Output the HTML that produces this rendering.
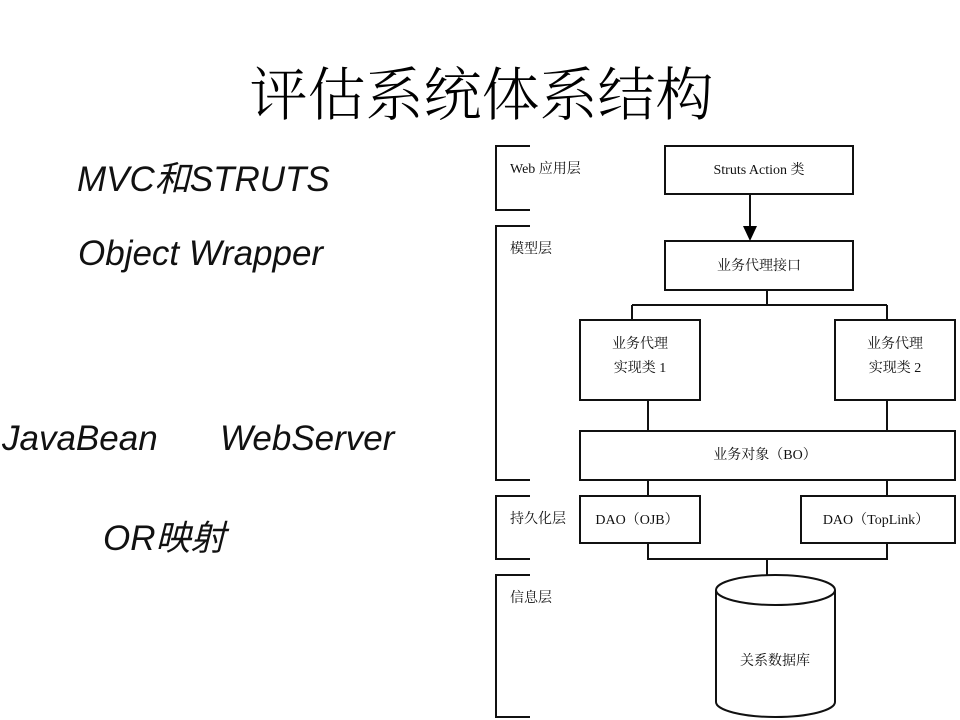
<!DOCTYPE html>
<html><head><meta charset="utf-8"><style>
body{margin:0;width:960px;height:720px;background:#fff;overflow:hidden;position:relative;font-family:"Liberation Sans","Noto Sans CJK SC",sans-serif}
.t{position:absolute;white-space:nowrap}
.l{font-style:italic;font-size:35px;color:#111}
</style></head><body>
<div class="t" style="left:0;width:963px;text-align:center;top:48px;font-size:58px;font-family:'Noto Serif CJK SC','Noto Sans CJK SC',serif;font-weight:300;color:#000">评估系统体系结构</div>
<div class="t l" style="left:77px;top:151px">MVC和STRUTS</div>
<div class="t l" style="left:78px;top:234px">Object Wrapper</div>
<div class="t l" style="left:2px;top:419px">JavaBean</div>
<div class="t l" style="left:220px;top:419px">WebServer</div>
<div class="t l" style="left:103px;top:510px">OR映射</div>
<svg width="960" height="720" style="position:absolute;left:0;top:0" font-family="Liberation Serif,Noto Serif CJK SC,serif" font-size="14">
<g fill="none" stroke="#111" stroke-width="2">
<path d="M530 146H496V210H530M530 226H496V480H530M530 496H496V559H530M530 575H496V717H530"/>
<rect x="665" y="146" width="188" height="48"/>
<rect x="665" y="241" width="188" height="49"/>
<rect x="580" y="320" width="120" height="80"/>
<rect x="835" y="320" width="120" height="80"/>
<rect x="580" y="431" width="375" height="49"/>
<rect x="580" y="496" width="120" height="47"/>
<rect x="801" y="496" width="154" height="47"/>
<path d="M750 194V228M767 290V305M632 305H887M632 305V320M887 305V320M648 400V431M887 400V431M648 480V496M887 480V496M648 543V559H887V543M767 559V575"/>
<path d="M716 590V702A59.5 15 0 0 0 835 702V590"/>
<ellipse cx="775.5" cy="590" rx="59.5" ry="15"/>
</g>
<path d="M743 226H757L750 241Z" fill="#000"/>
<g fill="#111">
<text x="510" y="173">Web 应用层</text>
<text x="510" y="253">模型层</text>
<text x="510" y="523">持久化层</text>
<text x="510" y="602">信息层</text>
<text x="759" y="174" text-anchor="middle">Struts Action 类</text>
<text x="759" y="270" text-anchor="middle">业务代理接口</text>
<text x="640" y="348" text-anchor="middle">业务代理</text>
<text x="640" y="372" text-anchor="middle">实现类 1</text>
<text x="895" y="348" text-anchor="middle">业务代理</text>
<text x="895" y="372" text-anchor="middle">实现类 2</text>
<text x="765" y="459" text-anchor="middle">业务对象（BO）</text>
<text x="637" y="524" text-anchor="middle">DAO（OJB）</text>
<text x="876" y="524" text-anchor="middle">DAO（TopLink）</text>
<text x="775" y="665" text-anchor="middle">关系数据库</text>
</g>
</svg>
</body></html>
